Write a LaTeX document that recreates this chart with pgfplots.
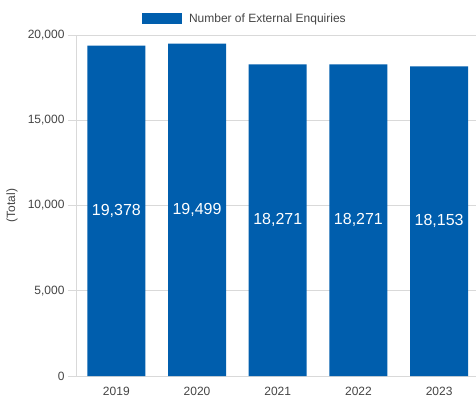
\documentclass[border=0pt]{standalone}
\usepackage{fontspec}
\setmainfont{Liberation Sans}
\usepackage{pgfplots}
\usepackage{pgfplotstable}
\pgfplotsset{compat=1.18}
\definecolor{barblue}{HTML}{005EAD}
\definecolor{gridgray}{HTML}{D9D9D9}
\definecolor{txtgray}{HTML}{444444}
\pgfplotstableread{
x v
0 19378
1 19499
2 18271
3 18271
4 18153
}\datatable
\begin{document}
\begin{tikzpicture}[x=1pt,y=1pt]
\path[use as bounding box] (0,0) rectangle (476,397);
\begin{axis}[
  at={(76pt,21pt)}, anchor=south west,
  scale only axis, width=400pt, height=341pt,
  xmin=-0.5, xmax=4.457, ymin=0, ymax=20000,
  axis x line*=bottom, axis y line*=left,
  axis line style={draw=gridgray, line width=0.8pt},
  xtick={0,1,2,3,4}, xticklabels={2019,2020,2021,2022,2023},
  x tick style={draw=none}, major tick length=8pt,
  ytick={0,5000,10000,15000,20000},
  y tick style={draw=gridgray, line width=0.8pt},
  tick align=outside,
  ymajorgrids, grid style={gridgray, line width=0.8pt},
  /pgf/number format/.cd, 1000 sep={,}, assume math mode=true, /pgfplots/.cd,
  scaled y ticks=false,
  tick label style={font=\fontsize{12}{14}\selectfont, text=txtgray},
  xticklabel style={yshift=0pt},
  ylabel={(Total)},
  ylabel style={at={(axis description cs:-0.16,0.5)}, anchor=center, font=\fontsize{12}{14}\selectfont, text=txtgray},
  legend style={at={(axis description cs:0.157,1.047)}, anchor=west, draw=none, fill=none,
    font=\fontsize{12}{14}\selectfont, text=txtgray},
  legend cell align=left,
]
\addplot[ybar, bar width=58pt, fill=barblue, draw=none,
  legend image code/.code={\fill[barblue] (0pt,-5.5pt) rectangle (40pt,5.5pt); \path (45pt,0pt);}]
  table[x=x, y=v] {\datatable};
\addlegendentry{Number of External Enquiries}
\addplot[draw=none, mark=none, forget plot, nodes near coords, point meta=explicit,
  nodes near coords style={font=\fontsize{16}{18}\selectfont, text=white, anchor=center}]
  table[x=x, y expr=\thisrow{v}/2, meta=v] {\datatable};
\end{axis}
\end{tikzpicture}
\end{document}
